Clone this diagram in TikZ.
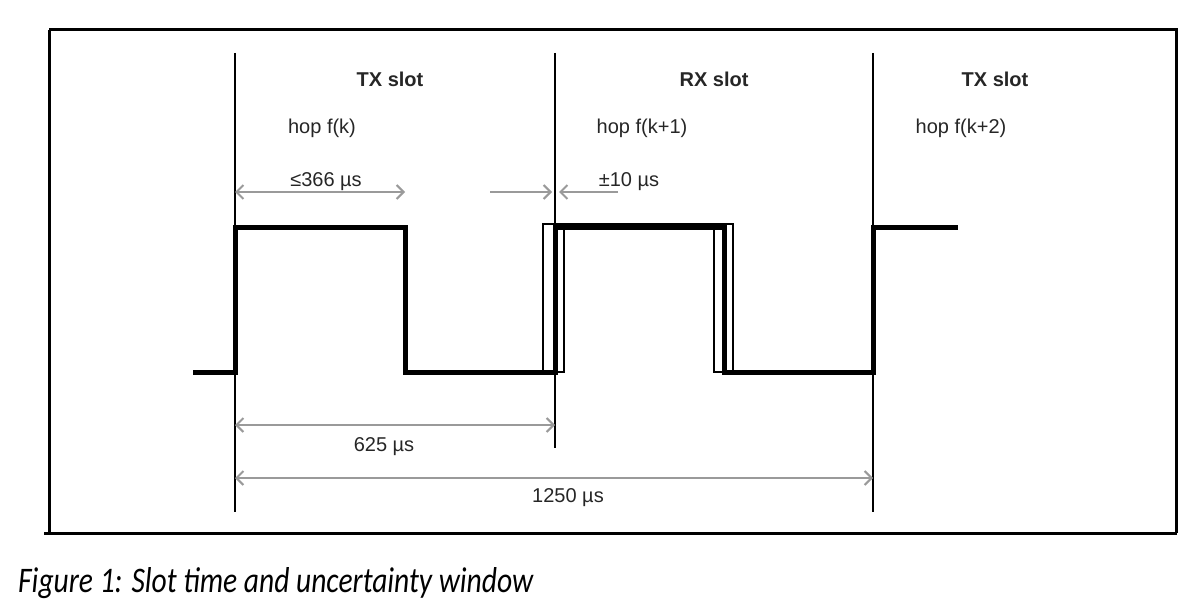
\documentclass[tikz,border=0pt]{standalone}
\usepackage{fontspec}
\setmainfont{Liberation Sans}
\newfontfamily\capfont[FakeStretch=0.82]{Carlito}
\usetikzlibrary{arrows.meta}
\definecolor{arrgray}{HTML}{9A9A9A}
\tikzset{
  guide/.style={line width=2.4pt, black},
  signal/.style={line width=5pt, black, line join=miter},
  thinbox/.style={line width=1.4pt, black},
  dim/.style={line width=2.2pt, arrgray, {Straight Barb[length=7pt,width=14pt,line width=2pt]}-{Straight Barb[length=7pt,width=14pt,line width=2pt]}},
  dimr/.style={line width=2.2pt, arrgray, -{Straight Barb[length=7pt,width=14pt,line width=2pt]}},
  slot/.style={font=\fontsize{20}{22}\selectfont\bfseries, text=black!85},
  hop/.style={font=\fontsize{20}{22}\selectfont, text=black!85},
  lbl/.style={font=\fontsize{20}{22}\selectfont, text=black!85},
}
\begin{document}
\begin{tikzpicture}[x=1pt,y=-1pt]
\useasboundingbox (0,0) rectangle (1193,602);
% frame
\draw[line width=3pt] (49,30) -- (1176,30) -- (1176,533);
\draw[line width=3pt] (49,30) -- (49,533);
\draw[line width=3pt] (44,533) -- (1177,533);
% guide lines
\coordinate (g1t) at (235,53); \coordinate (g1b) at (235,512);
\coordinate (g2t) at (555,53); \coordinate (g2b) at (555,448);
\coordinate (g3t) at (873,53); \coordinate (g3b) at (873,512);
\draw[guide] (g1t) -- (g1b);
\draw[guide] (g2t) -- (g2b);
\draw[guide] (g3t) -- (g3b);
% uncertainty boxes
\draw[thinbox] (543,224) rectangle (564,372);
\draw[thinbox] (553,224) -- (733,224);
\draw[thinbox] (714,224) rectangle (733,372);
% signal
\draw[signal] (193,372) -- (235,372) -- (235,227) -- (405,227) -- (405,372) -- (555,372) -- (555,227) -- (724,227) -- (724,372) -- (873,372) -- (873,227) -- (958,227);
% dimension arrows
\coordinate (a1l) at (235,192); \coordinate (a1r) at (405,192);
\draw[dim] (a1l) -- (a1r);
\coordinate (a2l) at (490,192); \coordinate (a2r) at (552,192);
\draw[dimr] (a2l) -- (a2r);
\coordinate (a3r) at (618,192); \coordinate (a3l) at (559,192);
\draw[dimr] (a3r) -- (a3l);
\coordinate (a4l) at (235,425); \coordinate (a4r) at (555,425);
\draw[dim] (a4l) -- (a4r);
\coordinate (a5l) at (235,478); \coordinate (a5r) at (873,478);
\draw[dim] (a5l) -- (a5r);
% labels
\node[slot] (s1) at (390,79) {TX slot};
\node[slot] (s2) at (714,79) {RX slot};
\node[slot] (s3) at (995,79) {TX slot};
\node[hop] (h1) at (322,128) {hop f(k)};
\node[hop] (h2) at (642,128) {hop f(k+1)};
\node[hop] (h3) at (961,128) {hop f(k+2)};
\node[lbl] (l1) at (326,182) {≤366 µs};
\node[lbl] (l2) at (629,182) {±10 µs};
\node[lbl] (l3) at (384,447) {625 µs};
\node[lbl] (l4) at (568,498) {1250 µs};
\node[anchor=base west, inner sep=0pt, font=\capfont\itshape\fontsize{36}{40}\selectfont] (cap) at (18,592) {Figure 1: Slot time and uncertainty window};
\end{tikzpicture}
\end{document}
